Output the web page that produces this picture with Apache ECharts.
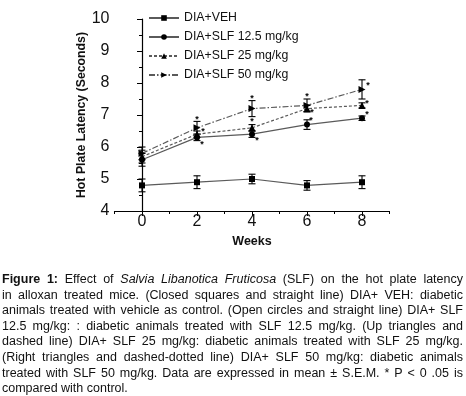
<!DOCTYPE html>
<html><head><meta charset="utf-8">
<script src="https://cdn.jsdelivr.net/npm/echarts@6/dist/echarts.min.js"></script>
<style>
body{margin:0;background:#fff;}
#chart{position:absolute;left:0;top:0;width:466px;height:396px;}
#cap{position:absolute;left:2px;top:272px;width:461px;font-family:'Liberation Sans',Arial,sans-serif;font-size:12.5px;line-height:15.6px;color:#111;}
#cap div{text-align:justify;text-align-last:justify;}
#cap div.last{text-align-last:left;}
</style></head>
<body>
<div id="chart"></div>
<div id="cap">
<div><b>Figure 1:</b> Effect of <i>Salvia Libanotica Fruticosa</i> (SLF) on the hot plate latency</div>
<div>in alloxan treated mice. (Closed squares and straight line) DIA+ VEH: diabetic</div>
<div>animals treated with vehicle as control. (Open circles and straight line) DIA+ SLF</div>
<div>12.5 mg/kg: : diabetic animals treated with SLF 12.5 mg/kg. (Up triangles and</div>
<div>dashed line) DIA+ SLF 25 mg/kg: diabetic animals treated with SLF 25 mg/kg.</div>
<div>(Right triangles and dashed-dotted line) DIA+ SLF 50 mg/kg: diabetic animals</div>
<div>treated with SLF 50 mg/kg. Data are expressed in mean ± S.E.M. * P &lt; 0 .05 is</div>
<div class="last">compared with control.</div>
</div>
<script>
const weeks = [0, 2, 4, 6, 8];
const seriesNames = ['DIA+VEH', 'DIA+SLF 12.5 mg/kg', 'DIA+SLF 25 mg/kg', 'DIA+SLF 50 mg/kg'];
const veh = [4.8, 4.9, 5.0, 4.8, 4.9];
const vehErr = [0.2, 0.2, 0.15, 0.15, 0.2];
const slf12 = [5.6, 6.3, 6.4, 6.7, 6.9];
const slf12Err = [0.2, 0.1, 0.1, 0.15, 0.07];
const slf25 = [5.7, 6.4, 6.6, 7.2, 7.3];
const slf25Err = [0.2, 0.1, 0.1, 0.1, 0.08];
const slf50 = [5.8, 6.6, 7.2, 7.3, 7.8];
const slf50Err = [0.2, 0.2, 0.25, 0.2, 0.3];
// significance flags (* P < 0.05 vs control)
const sig12 = [0, 1, 1, 1, 1];
const sig25 = [0, 1, 1, 1, 1];
const sig50 = [0, 1, 1, 1, 1];

const FONT = "'Liberation Sans', Arial, sans-serif";
const LINE = '#5a5a5a';

// asterisk placement rules (pixel offsets): [dx, dy, anchor('pt' or 'top')]
const starPlace = {
  s12: [[0,0,'pt'],[5,5,'pt'],[5,4,'pt'],[4,-6,'pt'],[5,-6,'pt']],
  s25: [[0,0,'pt'],[6,-5,'pt'],[0,-8,'pt'],[5,2,'pt'],[5,-4,'pt']],
  s50: [[0,0,'top'],[0,-4,'top'],[0,-4,'top'],[0,-4,'top'],[6,-6,'pt']]
};

function errSeries(vals, errs, sig, place) {
  return {
    type: 'custom',
    xAxisIndex: 0, yAxisIndex: 0,
    z: 4,
    silent: true,
    data: weeks.map((w, i) => [w, vals[i] - errs[i], vals[i] + errs[i], vals[i], i]),
    renderItem: function (params, api) {
      const x = api.value(0), lo = api.value(1), hi = api.value(2), v = api.value(3), i = api.value(4);
      const pLo = api.coord([x, lo]), pHi = api.coord([x, hi]), p = api.coord([x, v]);
      const cw = 3.5;
      const st = { stroke: '#000', lineWidth: 1.1 };
      const children = [
        { type: 'line', shape: { x1: pLo[0], y1: pLo[1], x2: pHi[0], y2: pHi[1] }, style: st },
        { type: 'line', shape: { x1: pLo[0] - cw, y1: pLo[1], x2: pLo[0] + cw, y2: pLo[1] }, style: st },
        { type: 'line', shape: { x1: pHi[0] - cw, y1: pHi[1], x2: pHi[0] + cw, y2: pHi[1] }, style: st }
      ];
      if (sig[i]) {
        const pl = place[i];
        const base = pl[2] === 'top' ? pHi : p;
        children.push({
          type: 'text',
          style: { x: base[0] + pl[0], y: base[1] + pl[1] + 2, text: '*', fill: '#000', font: 'bold 9px ' + FONT, align: 'center', verticalAlign: 'middle' }
        });
      }
      return { type: 'group', children: children };
    }
  };
}

function lineSeries(name, vals, symbol, size, rotate, lineType) {
  return {
    type: 'line', name: name,
    data: weeks.map((w, i) => [w, vals[i]]),
    symbol: symbol, symbolSize: size, symbolRotate: rotate,
    showAllSymbol: true,
    itemStyle: { color: '#000', borderWidth: 0 },
    lineStyle: { color: LINE, width: 1.2, type: lineType },
    z: 5
  };
}

const chart = echarts.init(document.getElementById('chart'), null, { renderer: 'canvas' });
chart.setOption({
  animation: false,
  backgroundColor: '#fff',
  textStyle: { fontFamily: FONT },
  grid: { left: 114.5, right: 76.5, top: 19, bottom: 185, containLabel: false },
  legend: {
    data: seriesNames,
    orient: 'vertical', left: 143, top: 7,
    itemWidth: 30, itemHeight: 7, itemGap: 7,
    textStyle: { fontSize: 12.3, color: '#111', fontFamily: FONT, lineHeight: 12 },
    selectedMode: false
  },
  xAxis: [{
    type: 'value', min: -1, max: 9, interval: 1,
    name: 'Weeks', nameLocation: 'middle', nameGap: 24,
    nameTextStyle: { fontSize: 12.5, fontWeight: 'bold', color: '#111', fontFamily: FONT },
    axisLine: { lineStyle: { color: '#000', width: 1.2 } },
    axisTick: { length: 3, lineStyle: { color: '#000' } },
    axisLabel: { fontSize: 16, color: '#111', margin: 3, formatter: v => (v >= 0 && v % 2 === 0) ? String(v) : '' },
    splitLine: { show: false }
  }, {
    type: 'value', min: -1, max: 9, interval: 2, position: 'bottom',
    axisLine: { show: false }, axisTick: { show: false }, axisLabel: { show: false },
    minorTick: { show: true, splitNumber: 2, length: 5, lineStyle: { color: '#000', width: 1 } },
    splitLine: { show: false }
  }],
  yAxis: {
    type: 'value', min: 4, max: 10, interval: 1,
    name: 'Hot Plate Latency (Seconds)', nameLocation: 'middle', nameGap: 27,
    nameMoveOverlap: false,
    nameTextStyle: { fontSize: 12.3, fontWeight: 'bold', color: '#111', fontFamily: FONT },
    axisLine: { show: true, lineStyle: { color: '#000', width: 1.2 } },
    axisTick: { show: true, length: 5, lineStyle: { color: '#000' } },
    minorTick: { show: true, splitNumber: 2, length: 3, lineStyle: { color: '#000' } },
    axisLabel: { fontSize: 16, color: '#111', margin: 5 },
    splitLine: { show: false }
  },
  series: [
    lineSeries(seriesNames[0], veh, 'rect', 6, 0, 'solid'),
    lineSeries(seriesNames[1], slf12, 'circle', 6, 0, 'solid'),
    lineSeries(seriesNames[2], slf25, 'triangle', 7, 0, [3, 2]),
    lineSeries(seriesNames[3], slf50, 'triangle', 7, -90, [6, 2, 1.5, 2]),
    errSeries(veh, vehErr, [0,0,0,0,0], starPlace.s12),
    errSeries(slf12, slf12Err, sig12, starPlace.s12),
    errSeries(slf25, slf25Err, sig25, starPlace.s25),
    errSeries(slf50, slf50Err, sig50, starPlace.s50)
  ]
});
</script>
</body></html>
